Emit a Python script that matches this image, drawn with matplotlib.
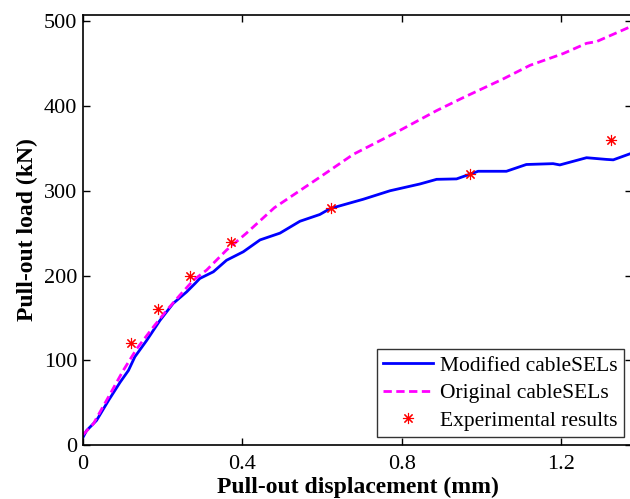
import numpy as np
import matplotlib
matplotlib.use('Agg')
import matplotlib.pyplot as plt

plt.rcParams['font.family'] = ['Liberation Serif', 'DejaVu Serif']

# Modified cableSELs (blue, solid)
mod_x = [0.0, 0.009, 0.034, 0.064, 0.093, 0.114, 0.130, 0.160, 0.193, 0.226,
         0.260, 0.281, 0.293, 0.327, 0.360, 0.402, 0.444, 0.494, 0.544, 0.594,
         0.62, 0.703, 0.77, 0.845, 0.887, 0.937, 0.991, 1.062, 1.112, 1.179,
         1.196, 1.263, 1.313, 1.33, 1.38]
mod_y = [9, 17, 29, 52.6, 74, 88, 104, 123.6, 147, 167,
         180.7, 190.6, 196.5, 204.4, 218, 228, 242, 250, 264, 272,
         279, 290, 300, 308, 313.5, 314, 323, 323, 331, 332,
         330.5, 339, 337, 336.5, 345]

# Original cableSELs (magenta, dashed)
orig_x = [0.0, 0.026, 0.059, 0.101, 0.135, 0.176, 0.21, 0.243, 0.277, 0.310,
          0.360, 0.41, 0.48, 0.594, 0.678, 0.786, 0.887, 0.954, 1.054, 1.121,
          1.205, 1.263, 1.288, 1.38]
orig_y = [12, 25, 52.6, 88, 113.7, 139, 159, 176.8, 194.5, 206.4,
          230, 250, 280, 316, 343, 369, 394.6, 410, 432, 448,
          462, 474, 476, 495]

# Experimental results (red asterisks)
exp_x = [0.120, 0.188, 0.268, 0.371, 0.621, 0.971, 1.324]
exp_y = [120, 160, 200, 240, 280, 320, 360]

fig = plt.figure(figsize=(6.3, 4.99), dpi=100)
ax = fig.add_axes([83 / 630, 54 / 499, 549 / 630, 430.5 / 499])

ax.plot(mod_x, mod_y, '-', color='#0000ff', lw=2, label='Modified cableSELs')
ax.plot(orig_x, orig_y, '--', color='#ff00ff', lw=2, dashes=(3, 1.6),
        label='Original cableSELs')
ax.plot(exp_x, exp_y, linestyle='none', marker=(8, 2, 0), markersize=8,
        color='#ff0000', markeredgewidth=0.8, label='Experimental results')

ax.set_xlim(0, 1.377)
ax.set_ylim(0, 508)
ax.set_xticks([0, 0.4, 0.8, 1.2])
ax.set_xticklabels(['0', '0.4', '0.8', '1.2'])
ax.set_yticks(np.arange(0, 501, 100))
ax.tick_params(direction='in', top=True, right=True, labelsize=16,
               length=5, width=1, pad=4)
ax.tick_params(axis='x', pad=7)
for s in ax.spines.values():
    s.set_linewidth(1.2)

ax.set_xlabel('Pull-out displacement (mm)', fontsize=17, fontweight='bold',
              labelpad=2)
ax.set_ylabel('Pull-out load (kN)', fontsize=17, fontweight='bold',
              labelpad=4)

leg = ax.legend(loc='lower right', fontsize=15.5, frameon=True, fancybox=False,
                edgecolor='black', borderaxespad=0.35, handlelength=2.3,
                labelspacing=0.35, borderpad=0.3, handletextpad=0.35)
leg.get_frame().set_linewidth(1)

fig.savefig('out.png', dpi=100)
